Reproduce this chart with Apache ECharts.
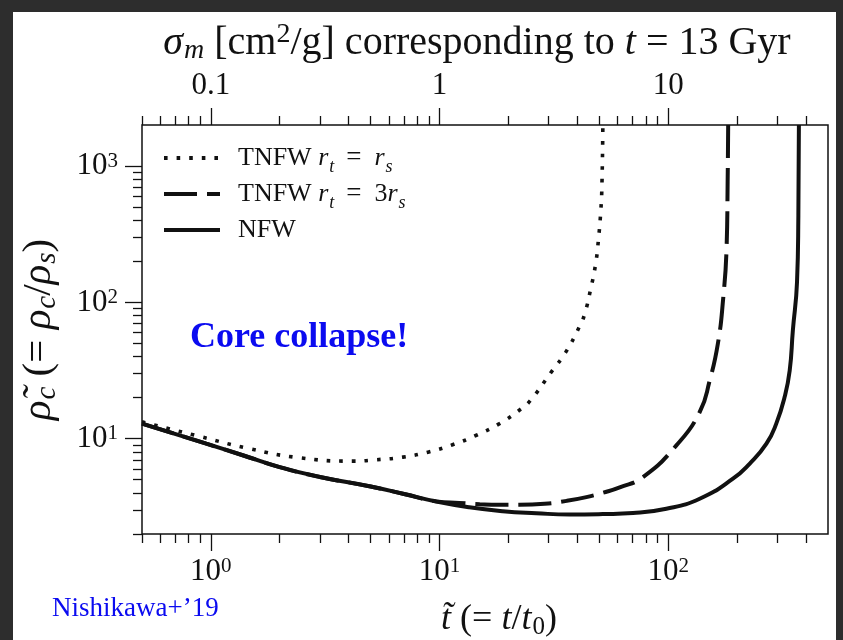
<!DOCTYPE html>
<html>
<head>
<meta charset="utf-8">
<script src="https://cdn.jsdelivr.net/npm/echarts@6/dist/echarts.min.js"></script>
<style>
  html, body { margin: 0; padding: 0; background: #2d2d2d; }
  #chart { width: 843px; height: 640px; }
</style>
</head>
<body>
<div id="chart"></div>
<script>
// Central density of a self-interacting dark-matter halo versus time (log-log)

// TNFW, r_t = r_s (dotted)
const tDotted   = [0.5, 0.892, 1.476, 2.44, 4.18, 5.29, 6.92, 8.9, 11.4, 14.5, 18.3, 22.8, 25.0, 31.2, 35.6, 41.0, 43.1, 45.8, 48.2, 49.6, 50.7, 51.3, 51.8];
const rhoDotted = [13.3, 10.4, 8.45, 7.25, 6.85, 7.01, 7.33, 7.97, 9.03, 10.6, 12.9, 16.6, 19.1, 31.7, 43.0, 66.8, 81.8, 124.8, 192.7, 294, 461, 703, 2000];

// TNFW, r_t = 3 r_s (dashed)
const tDashed   = [0.5, 0.955, 1.4, 2.0, 3.0, 5.0, 7.0, 9.68, 12.2, 15.0, 18.3, 22.4, 28.8, 36.0, 43.9, 51.8, 61.4, 77.6, 108.6, 137.4, 152, 165, 174, 180, 182, 183];
const rhoDashed = [12.9, 9.19, 7.5, 6.19, 5.24, 4.46, 3.93, 3.47, 3.38, 3.31, 3.28, 3.28, 3.33, 3.50, 3.73, 4.01, 4.39, 5.23, 8.93, 15.7, 26.8, 49.9, 106.6, 248, 766, 2000];

// NFW (solid)
const tSolid   = [0.5, 0.955, 1.4, 2.0, 3.0, 5.0, 7.0, 9.68, 13.5, 18.9, 26.5, 37.1, 51.8, 70.2, 98.2, 137.4, 192, 227, 269, 297, 323, 340, 351, 366, 371, 373];
const rhoSolid = [12.9, 9.19, 7.5, 6.19, 5.24, 4.46, 3.93, 3.46, 3.14, 2.94, 2.84, 2.78, 2.80, 2.85, 3.06, 3.63, 5.09, 6.55, 9.19, 12.9, 20.2, 31.7, 62.4, 141, 436, 2000];

const seriesNames = ['TNFW rt = rs', 'TNFW rt = 3rs', 'NFW'];

// Axis ranges and ticks
const tRange   = [0.5, 500];
const rhoRange = [2, 2000];
const tMajorTicks   = [1, 10, 100];
const tMinorTicks   = [0.5, 0.6, 0.7, 0.8, 0.9, 2, 3, 4, 5, 6, 7, 8, 9, 20, 30, 40, 50, 60, 70, 80, 90, 200, 300, 400];
const rhoMajorTicks = [10, 100, 1000];
const rhoMinorTicks = [2, 3, 4, 5, 6, 7, 8, 9, 20, 30, 40, 50, 60, 70, 80, 90, 200, 300, 400, 500, 600, 700, 800, 900];
// Upper axis: cross section giving the same t~ at t = 13 Gyr
const tPerSigma = 10;
const sigmaMajorTicks  = [0.1, 1, 10];
const sigmaTickLabels  = ['0.1', '1', '10'];
const sigmaMinorTicks  = [0.05, 0.06, 0.07, 0.08, 0.09, 0.2, 0.3, 0.4, 0.5, 0.6, 0.7, 0.8, 0.9, 2, 3, 4, 5, 6, 7, 8, 9, 20, 30, 40];

const SERIF = '"Liberation Serif", "Times New Roman", serif';
const INK = '#111111';
const BLUE = '#0b0bf0';
const lg = Math.log10;

function pairs(xs, ys) { return xs.map((x, i) => [x, ys[i]]); }

const supRich = {
  sup: { fontFamily: SERIF, fontSize: 21, lineHeight: 21, verticalAlign: 'top', padding: [0, 0, 13, 0], color: INK }
};
function mathRich(size) {
  const s = Math.round(size * 0.7);
  const p = Math.round(size * 0.56);
  return {
    i:   { fontFamily: SERIF, fontSize: size, fontStyle: 'italic', color: INK, lineHeight: size + 4 },
    sub: { fontFamily: SERIF, fontSize: s, fontStyle: 'italic', color: INK, lineHeight: s, verticalAlign: 'bottom', padding: [p, 0, 0, 1] },
    rs:  { fontFamily: SERIF, fontSize: s, color: INK, lineHeight: s, verticalAlign: 'bottom', padding: [p, 0, 0, 1] },
    sup: { fontFamily: SERIF, fontSize: s, color: INK, lineHeight: s, verticalAlign: 'top', padding: [0, 0, p - 1, 0] }
  };
}

// Tick-only helper axes laid over the logarithmic data axes (linear in log10 space)
function tickAxis(position, range, ticks, len, extra) {
  const ax = {
    type: 'value',
    position: position,
    min: lg(range[0]),
    max: lg(range[1]),
    axisLine: { show: false, onZero: false },
    splitLine: { show: false },
    axisTick: { show: true, length: len, lineStyle: { color: INK, width: 1.3 }, customValues: ticks.map(lg) },
    axisLabel: { show: false }
  };
  return Object.assign(ax, extra || {});
}

const chart = echarts.init(document.getElementById('chart'), null, { renderer: 'canvas' });

const option = {
  backgroundColor: '#2d2d2d',
  animation: false,
  grid: {
    left: 142, right: 15, top: 125, bottom: 106,
    outerBoundsMode: 'none', containLabel: false,
    show: true, backgroundColor: '#ffffff', borderColor: INK, borderWidth: 1.5
  },
  xAxis: [
    { type: 'log', logBase: 10, min: tRange[0], max: tRange[1], show: false },
    tickAxis('bottom', tRange, tMinorTicks, 9),
    tickAxis('bottom', tRange, tMajorTicks, 17, {
      axisLabel: {
        show: true, customValues: tMajorTicks.map(lg), margin: 22,
        formatter: v => '10{sup|' + Math.round(v) + '}',
        fontFamily: SERIF, fontSize: 31, color: INK, rich: supRich
      },
      name: '{i|t\u0303} (= {i|t}/{i|t}{rs|0})',
      nameLocation: 'middle', nameGap: 56,
      nameTextStyle: { fontFamily: SERIF, fontSize: 36, color: INK, rich: mathRich(36), padding: [0, 0, 0, 28] }
    }),
    tickAxis('top', tRange, sigmaMinorTicks.map(s => s * tPerSigma), 9),
    tickAxis('top', tRange, sigmaMajorTicks.map(s => s * tPerSigma), 17, {
      axisLabel: {
        show: true, customValues: sigmaMajorTicks.map(s => lg(s * tPerSigma)), margin: 24,
        formatter: v => sigmaTickLabels[Math.round(v)],
        fontFamily: SERIF, fontSize: 31, color: INK
      },
      name: '{i|\u03C3}{sub|m} [cm{sup|2}/g] corresponding to {i|t} = 13 Gyr',
      nameLocation: 'middle', nameGap: 60, nameMoveOverlap: false,
      nameTextStyle: { fontFamily: SERIF, fontSize: 40, color: INK, rich: mathRich(40), padding: [0, 16, 0, 0] }
    })
  ],
  yAxis: [
    { type: 'log', logBase: 10, min: rhoRange[0], max: rhoRange[1], show: false },
    tickAxis('left', rhoRange, rhoMinorTicks, 9),
    tickAxis('left', rhoRange, rhoMajorTicks, 17, {
      axisLabel: {
        show: true, customValues: rhoMajorTicks.map(lg), margin: 24,
        formatter: v => '10{sup|' + Math.round(v) + '}',
        fontFamily: SERIF, fontSize: 31, color: INK, rich: supRich
      },
      name: '{i|\u03C1\u0303}{sub|c} (= {i|\u03C1}{sub|c}/{i|\u03C1}{sub|s})',
      nameLocation: 'middle', nameGap: 80, nameRotate: 90,
      nameTextStyle: { fontFamily: SERIF, fontSize: 41, color: INK, rich: mathRich(41) }
    })
  ],
  legend: {
    orient: 'vertical', left: 157, top: 135,
    itemWidth: 56, itemHeight: 14, itemGap: 0,
    data: seriesNames,
    itemStyle: { opacity: 0 },
    lineStyle: { width: 4 },
    formatter: name => {
      if (name === seriesNames[0]) return 'TNFW {i|r}{sub|t}{eq|=}{i|r}{sub|s}';
      if (name === seriesNames[1]) return 'TNFW {i|r}{sub|t}{eq|=}3{i|r}{sub|s}';
      return 'NFW';
    },
    textStyle: {
      fontFamily: SERIF, fontSize: 26, color: INK, lineHeight: 36, padding: [0, 0, 0, 13],
      rich: {
        i:   { fontFamily: SERIF, fontSize: 26, fontStyle: 'italic', color: INK },
        sub: { fontFamily: SERIF, fontSize: 18, fontStyle: 'italic', color: INK, lineHeight: 18, verticalAlign: 'bottom', padding: [18, 0, 0, 1] },
        eq:  { fontFamily: SERIF, fontSize: 27, color: INK, padding: [0, 13, 0, 12] }
      }
    }
  },
  graphic: [
    { type: 'rect', z: -100, silent: true, shape: { x: 13, y: 12, width: 823, height: 628 }, style: { fill: '#ffffff' } },
    { type: 'text', z: 100, silent: true, x: 190, y: 338,
      style: { text: 'Core collapse!', font: 'bold 36px ' + SERIF, fill: BLUE, verticalAlign: 'middle' } },
    { type: 'text', z: 100, silent: true, x: 52, y: 609,
      style: { text: 'Nishikawa+\u201919', font: '27px ' + SERIF, fill: BLUE, verticalAlign: 'middle' } }
  ],
  series: [
    {
      name: seriesNames[0], type: 'line', xAxisIndex: 0, yAxisIndex: 0,
      data: pairs(tDotted, rhoDotted), symbol: 'none', smooth: 0.5,
      itemStyle: { color: INK },
      lineStyle: { color: INK, width: 3.6, type: [3.6, 9], cap: 'butt' }
    },
    {
      name: seriesNames[1], type: 'line', xAxisIndex: 0, yAxisIndex: 0,
      data: pairs(tDashed, rhoDashed), symbol: 'none', smooth: 0.5,
      itemStyle: { color: INK },
      lineStyle: { color: INK, width: 4, type: [33, 10], cap: 'butt' }
    },
    {
      name: seriesNames[2], type: 'line', xAxisIndex: 0, yAxisIndex: 0,
      data: pairs(tSolid, rhoSolid), symbol: 'none', smooth: 0.5,
      itemStyle: { color: INK },
      lineStyle: { color: INK, width: 4, type: 'solid' }
    }
  ]
};

chart.setOption(option);
</script>
</body>
</html>
